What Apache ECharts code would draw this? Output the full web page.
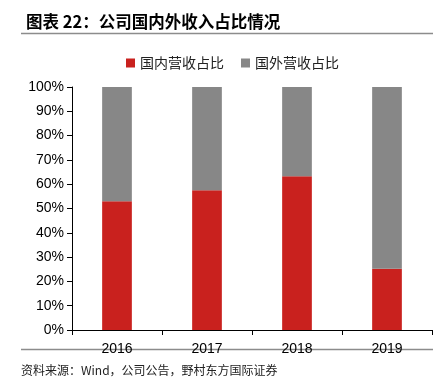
<!DOCTYPE html>
<html><head><meta charset="utf-8">
<script src="https://cdn.jsdelivr.net/npm/echarts@6/dist/echarts.min.js"></script>
<style>html,body{margin:0;padding:0;background:#fff}#c{width:442px;height:389px}</style>
</head><body><div id="c"></div>
<script>
var categories = ['2016', '2017', '2018', '2019'];
var domestic = [53, 57.5, 63.3, 25.2];
var overseas = [47, 42.5, 36.7, 74.8];
var seriesNames = ['国内营收占比', '国外营收占比'];

var chart = echarts.init(document.getElementById('c'));
var cjk = '"Noto Sans CJK SC", "Liberation Sans", sans-serif';
chart.setOption({
  animation: false,
  title: {
    text: '图表 22：公司国内外收入占比情况',
    left: 21, top: 8,
    textStyle: { fontFamily: cjk, fontSize: 16.5, fontWeight: 'bold', color: '#000' }
  },
  graphic: [
    { type: 'line', shape: { x1: 21, y1: 33.5, x2: 433, y2: 33.5 }, style: { stroke: '#8c8c8c', lineWidth: 1.5 } },
    { type: 'line', shape: { x1: 21, y1: 349.5, x2: 433, y2: 349.5 }, style: { stroke: '#8c8c8c', lineWidth: 1.5 } },
    { type: 'text', left: 21, top: 364, style: { text: '资料来源：Wind，公司公告，野村东方国际证券', font: '12px ' + cjk, fill: '#222' } }
  ],
  legend: {
    data: seriesNames,
    top: 51, left: 121,
    itemWidth: 9, itemHeight: 9, itemGap: 17,
    icon: 'rect',
    textStyle: { fontFamily: cjk, fontSize: 14, color: '#222' }
  },
  grid: { left: 72, right: 10, top: 87, bottom: 59 },
  xAxis: {
    type: 'category', data: categories,
    axisLine: { lineStyle: { color: '#000' } },
    axisTick: { show: true, lineStyle: { color: '#000' }, length: 5 },
    axisLabel: { fontFamily: '"Liberation Sans", Arial, sans-serif', fontSize: 14, color: '#000', margin: 12 }
  },
  yAxis: {
    type: 'value', min: 0, max: 100, interval: 10,
    axisLine: { show: true, lineStyle: { color: '#000' } },
    axisTick: { show: true, lineStyle: { color: '#000' }, length: 5 },
    splitLine: { show: false },
    axisLabel: { formatter: '{value}%', fontFamily: '"Liberation Sans", Arial, sans-serif', fontSize: 14, color: '#000', margin: 8 }
  },
  series: [
    { name: seriesNames[0], type: 'bar', stack: 's', data: domestic, barWidth: '33%', itemStyle: { color: '#c9211e' } },
    { name: seriesNames[1], type: 'bar', stack: 's', data: overseas, barWidth: '33%', itemStyle: { color: '#878787' } }
  ]
});
</script></body></html>
